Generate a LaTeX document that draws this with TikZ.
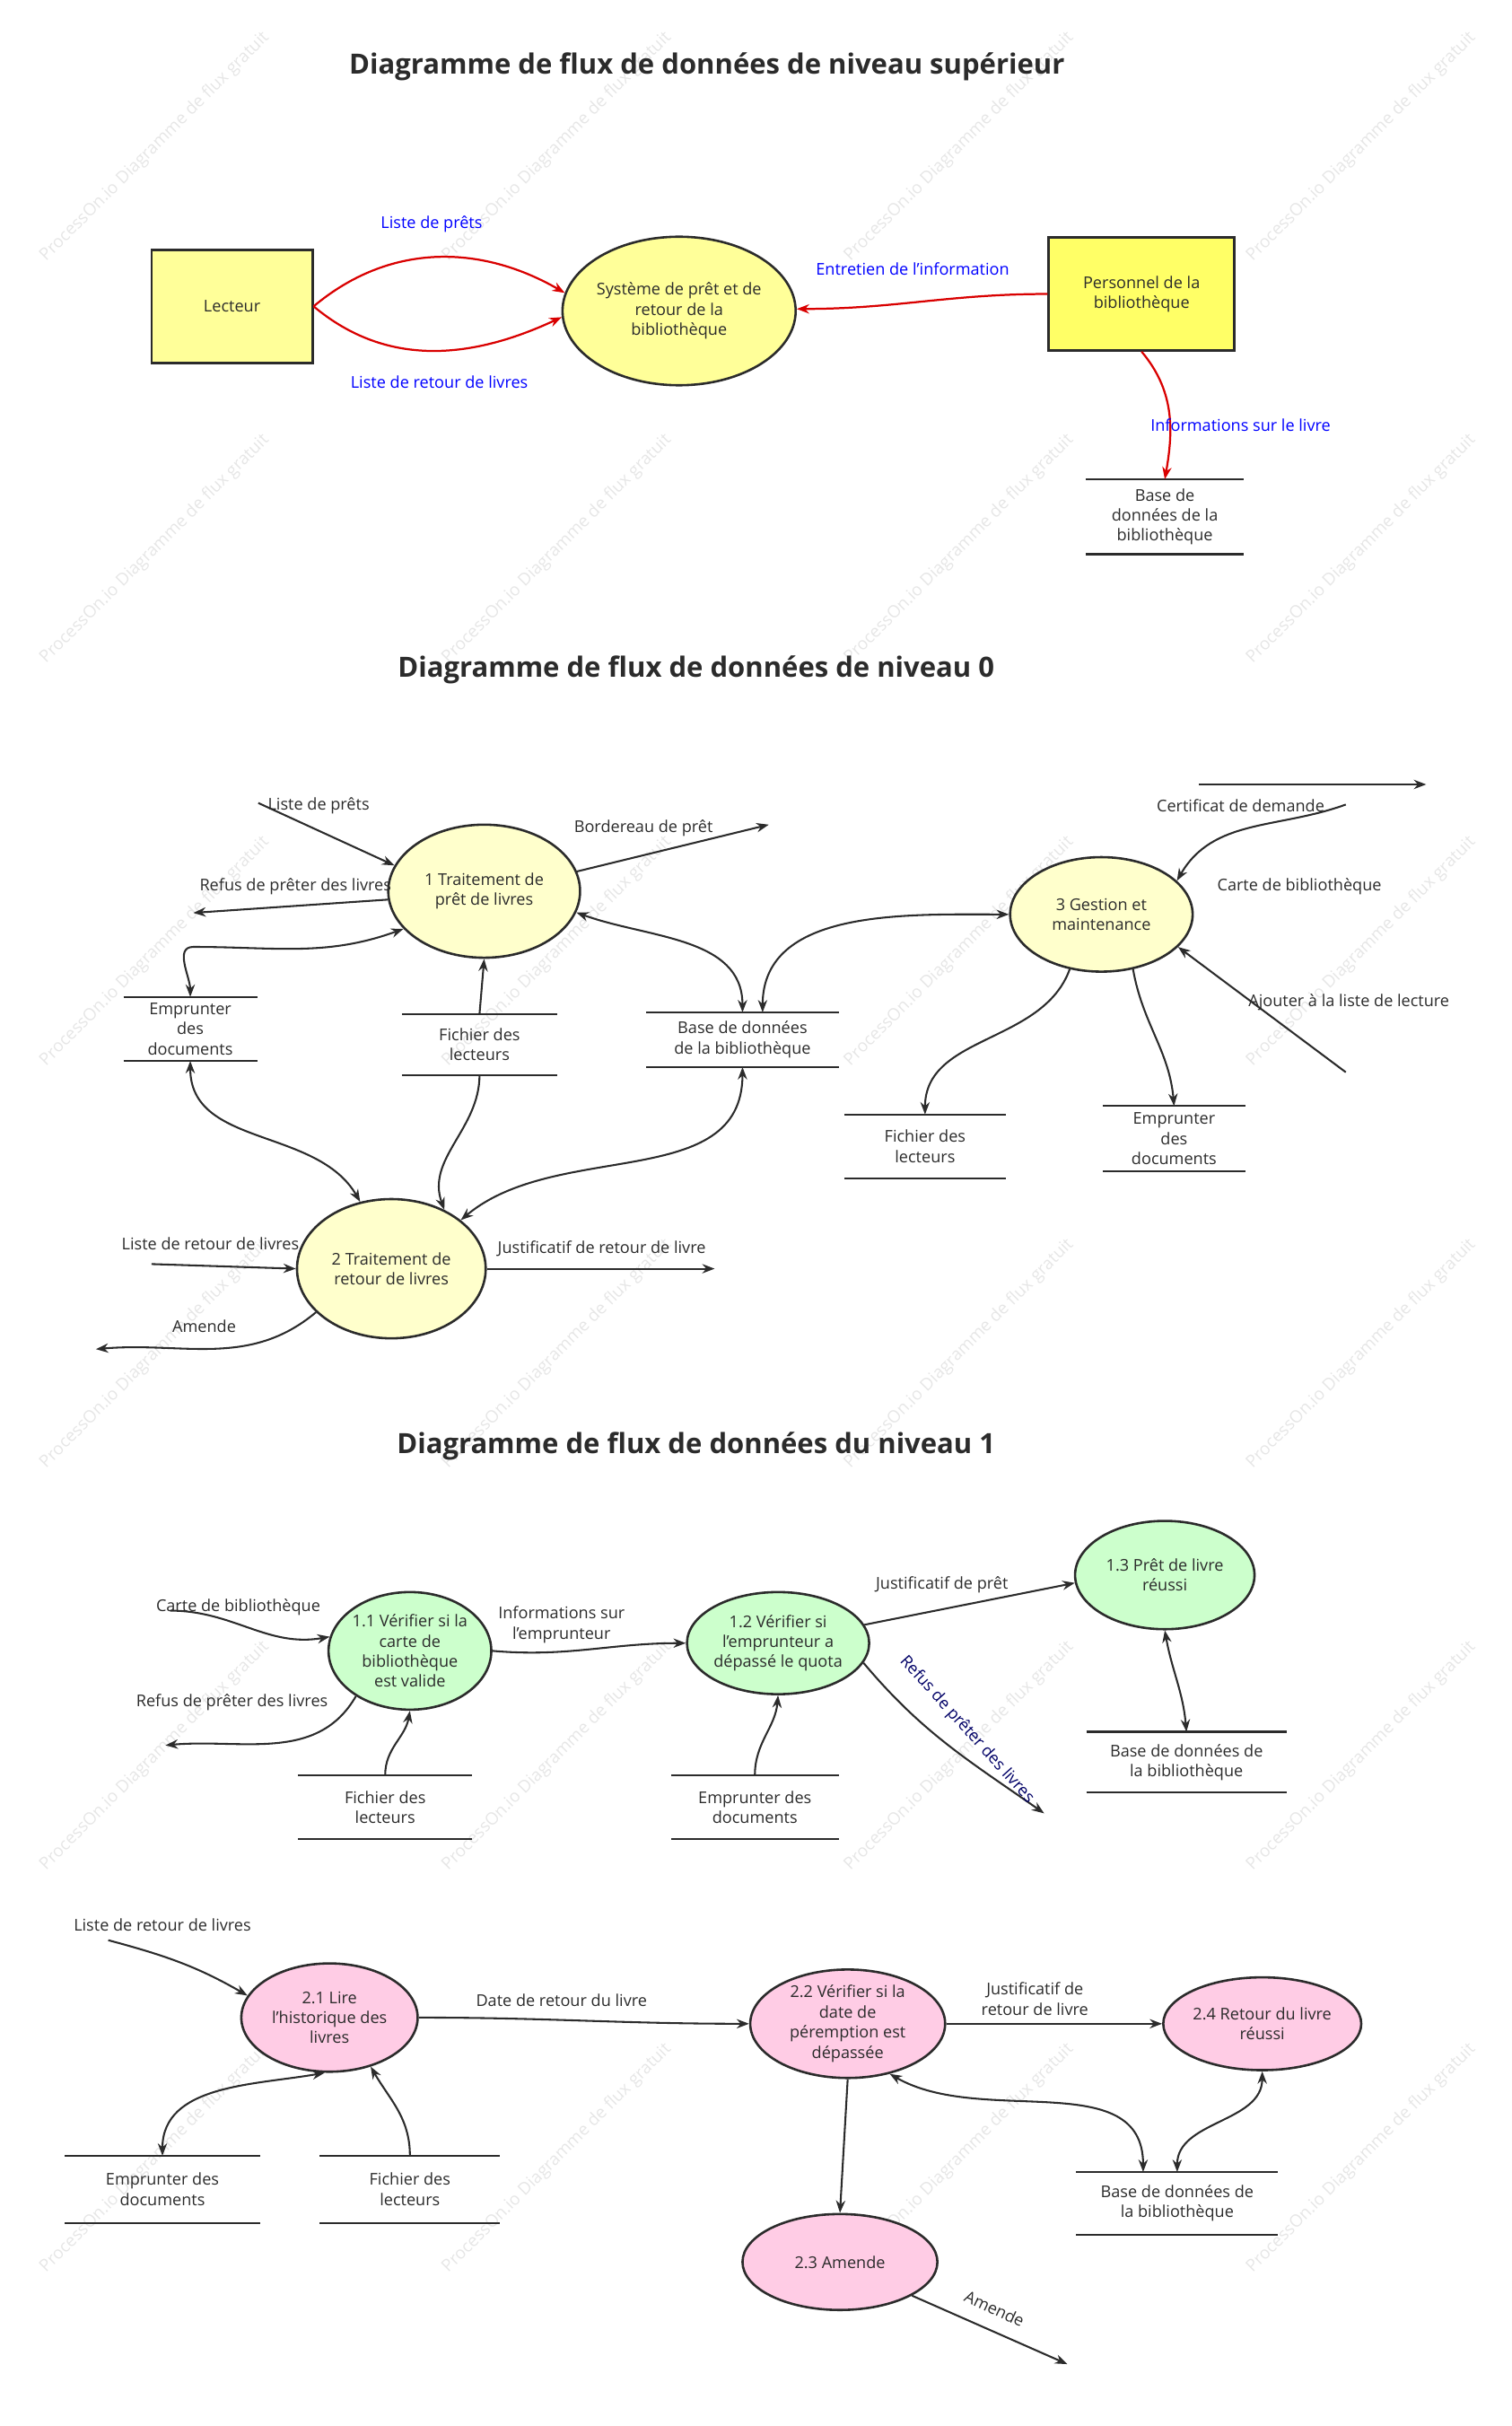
\documentclass[tikz,border=0pt]{standalone}
\usepackage{fontspec}
\setmainfont{Open Sans}
\usetikzlibrary{arrows.meta,shapes.geometric}
\definecolor{ink}{HTML}{2B2B2B}
\definecolor{yel}{HTML}{FFFF99}
\definecolor{yel2}{HTML}{FFFF66}
\definecolor{pyel}{HTML}{FFFFCC}
\definecolor{grn}{HTML}{CCFFCC}
\definecolor{pnk}{HTML}{FFCCE5}
\definecolor{wm}{HTML}{E6E6E6}
\tikzset{
 txt/.style={font=\fontsize{10.5}{13}\selectfont, text=ink, align=center, inner sep=1pt},
 ttl/.style={font=\fontsize{18}{22}\selectfont\bfseries, text=ink},
 proc/.style={ellipse, draw=ink, line width=1.5pt, txt},
 ent/.style={rectangle, draw=ink, line width=1.5pt, txt},
 arr/.style={-{Stealth[length=8pt,width=6pt]}, line width=1.2pt, draw=ink},
 barr/.style={{Stealth[length=8pt,width=6pt]}-{Stealth[length=8pt,width=6pt]}, line width=1.2pt, draw=ink},
 rarr/.style={-{Stealth[length=8pt,width=6pt]}, line width=1.3pt, draw=red!85!black, color=red!85!black},
 blbl/.style={txt, text=blue},
}
\newcommand{\dstore}[6]{% name, cx, cy, width, height, text
 \node[txt, minimum width=#4pt, minimum height=#5pt, inner sep=0pt] (#1) at (#2,#3) {#6};
 \draw[line width=1.2pt, ink] (#1.north west) -- (#1.north east) (#1.south west) -- (#1.south east);}
\begin{document}
\begin{tikzpicture}[x=1pt,y=-1pt]
\useasboundingbox (0,0) rectangle (977,1568);
% watermarks
\foreach \i in {0,...,3}{\foreach \j in {0,...,5}{
 \node[rotate=45, font=\fontsize{11}{13}\selectfont, text=wm] (wm\i\j) at (100+260*\i,95+260*\j) {ProcessOn.io Diagramme de flux gratuit};}}
% ---------- section 1
\node[ttl] (t1) at (457,43) {Diagramme de flux de données de niveau supérieur};
\node[ent, fill=yel, minimum width=104pt, minimum height=73pt] (lect) at (150,198) {Lecteur};
\node[proc, fill=yel, minimum width=146pt, minimum height=96pt, inner sep=0pt] (sys) at (439,201) {Système de prêt et de\\retour de la\\bibliothèque};
\node[ent, fill=yel2, minimum width=120pt, minimum height=73pt] (pers) at (738,190) {Personnel de la\\bibliothèque};
\dstore{bdd}{753}{334}{102}{48}{Base de\\données de la\\bibliothèque}
\draw[rarr] (lect.east) to[out=40,in=150] (sys.171);
\draw[rarr] (lect.east) to[out=-40,in=205] (sys.183);
\draw[rarr] (pers.west) to[out=180,in=0] (sys.1);
\draw[rarr] (pers.south) to[out=-50,in=80] (bdd.north);
\node[blbl] (l1) at (279,145) {Liste de prêts};
\node[blbl] (l2) at (284,247) {Liste de retour de livres};
\node[blbl] (l3) at (590,174) {Entretien de l'information};
\node[blbl] (l4) at (802,275) {Informations sur le livre};
% ---------- section 2
\node[ttl] (t2) at (450,433) {Diagramme de flux de données de niveau 0};
\node[proc, fill=pyel, minimum width=124pt, minimum height=86pt, inner sep=0pt] (p1) at (313,576) {1 Traitement de\\prêt de livres};
\node[proc, fill=pyel, minimum width=122pt, minimum height=90pt, inner sep=0pt] (p2) at (253,820) {2 Traitement de\\retour de livres};
\node[proc, fill=pyel, minimum width=118pt, minimum height=74pt, inner sep=0pt] (p3) at (712,591) {3 Gestion et\\maintenance};
\dstore{s1}{123}{665}{86}{41}{Emprunter\\des\\documents}
\dstore{s2}{310}{675}{100}{39}{Fichier des\\lecteurs}
\dstore{s3}{480}{672}{124}{35}{Base de données\\de la bibliothèque}
\dstore{s4}{598}{741}{104}{41}{Fichier des\\lecteurs}
\dstore{s5}{759}{736}{92}{42}{Emprunter\\des\\documents}
\coordinate (a1) at (167,519); \coordinate (a2) at (497,533); \coordinate (a3) at (125,590);
\coordinate (a4) at (98,817); \coordinate (a5) at (62,872); \coordinate (a6) at (462,820);
\coordinate (a7) at (775,507); \coordinate (a8) at (922,507); \coordinate (a9) at (870,520); \coordinate (a10) at (870,693);
\draw[arr] (a1) -- (p1.164);
\draw[arr] (p1.12) -- (a2);
\draw[arr] (p1.185) -- (a3);
\draw[barr] (s1.north) to[out=90,in=180] (125,612) to[out=0,in=200] (p1.205);
\draw[arr] (s2.north) -- (p1.south);
\draw[barr] (p1.347) to[out=-20,in=90] (s3.north);
\draw[barr] ([xshift=13pt]s3.north) to[out=90,in=180] (p3.180);
\draw[barr] (s1.south) to[out=-90,in=120] (p2.115);
\draw[arr] (s2.south) to[out=-90,in=110] (p2.48);
\draw[barr] (s3.south) to[out=-90,in=40] (p2.35);
\draw[arr] (a4) -- (p2.180);
\draw[arr] (p2.210) to[out=-140,in=5] (a5);
\draw[arr] (p2.0) -- (a6);
\draw[arr] (a7) -- (a8);
\draw[arr] (a9) to[out=200,in=60] (p3.24);
\draw[arr] (a10) -- (p3.337);
\draw[arr] (p3.240) to[out=-110,in=90] (s4.north);
\draw[arr] (p3.300) to[out=-80,in=95] (s5.north);
\node[txt] (b1) at (206,521) {Liste de prêts};
\node[txt] (b2) at (416,535) {Bordereau de prêt};
\node[txt] (b3) at (191,573) {Refus de prêter des livres};
\node[txt] (b4) at (136,804) {Liste de retour de livres};
\node[txt] (b5) at (132,857) {Amende};
\node[txt] (b6) at (389,807) {Justificatif de retour de livre};
\node[txt] (b7) at (802,521) {Certificat de demande};
\node[txt] (b8) at (840,573) {Carte de bibliothèque};
\node[txt] (b9) at (872,648) {Ajouter à la liste de lecture};
% ---------- section 3
\node[ttl] (t3) at (450,935) {Diagramme de flux de données du niveau 1};
\node[proc, fill=grn, minimum width=104pt, minimum height=76pt, inner sep=0pt] (q11) at (265,1067) {1.1 Vérifier si la\\carte de\\bibliothèque\\est valide};
\node[proc, fill=grn, minimum width=116pt, minimum height=66pt, inner sep=0pt] (q12) at (503,1062) {1.2 Vérifier si\\l'emprunteur a\\dépassé le quota};
\node[proc, fill=grn, minimum width=116pt, minimum height=70pt, inner sep=0pt] (q13) at (753,1018) {1.3 Prêt de livre\\réussi};
\dstore{u1}{249}{1168}{112}{41}{Fichier des\\lecteurs}
\dstore{u2}{488}{1168}{108}{41}{Emprunter des\\documents}
\dstore{u3}{767}{1139}{129}{39}{Base de données de\\la bibliothèque}
\coordinate (c1) at (110,1041); \coordinate (c2) at (107,1128); \coordinate (c3) at (675,1172);
\draw[arr] (c1) to[out=0,in=190] (q11.170);
\draw[arr] (q11.220) to[out=-120,in=5] (c2);
\draw[arr] (u1.north) to[out=90,in=-100] (q11.south);
\draw[arr] (q11.east) to[out=-5,in=180] (q12.west);
\draw[arr] (u2.north) to[out=90,in=-95] (q12.south);
\draw[arr] (q12.12) -- (q13.185);
\draw[arr] (q12.347) to[out=-50,in=145] (c3);
\draw[barr] (q13.south) to[out=-80,in=95] (u3.north);
\node[txt] (d1) at (154,1039) {Carte de bibliothèque};
\node[txt] (d2) at (150,1100) {Refus de prêter des livres};
\node[txt] (d3) at (363,1050) {Informations sur\\l'emprunteur};
\node[txt] (d4) at (609,1024) {Justificatif de prêt};
\node[txt, rotate=-48, text=blue!40!black] (d5) at (625,1118) {Refus de prêter des livres};
\node[proc, fill=pnk, minimum width=114pt, minimum height=70pt, inner sep=0pt] (r21) at (213,1304) {2.1 Lire\\l'historique des\\livres};
\node[proc, fill=pnk, minimum width=126pt, minimum height=70pt, inner sep=0pt] (r22) at (548,1308) {2.2 Vérifier si la\\date de\\péremption est\\dépassée};
\node[proc, fill=pnk, minimum width=128pt, minimum height=60pt, inner sep=0pt] (r24) at (816,1308) {2.4 Retour du livre\\réussi};
\node[proc, fill=pnk, minimum width=126pt, minimum height=62pt, inner sep=0pt] (r23) at (543,1462) {2.3 Amende};
\dstore{v1}{105}{1415}{126}{43}{Emprunter des\\documents}
\dstore{v2}{265}{1415}{116}{43}{Fichier des\\lecteurs}
\dstore{v3}{761}{1424}{130}{40}{Base de données de\\la bibliothèque}
\coordinate (e1) at (70,1254); \coordinate (e2) at (690,1528);
\draw[arr] (e1) to[out=-15,in=150] (r21.165);
\draw[arr] (r21.east) to[out=0,in=180] (r22.west);
\draw[arr] (r22.east) -- (r24.west);
\draw[barr] (v1.north) to[out=90,in=190] (r21.265);
\draw[arr] (v2.north) to[out=90,in=-60] (r21.310);
\draw[barr] (r22.310) to[out=-30,in=90] ([xshift=-22pt]v3.north);
\draw[barr] (r24.south) to[out=-90,in=90] ([xshift=0pt]v3.north);
\draw[arr] (r22.south) -- (r23.north);
\draw[arr] (r23.335) -- (e2);
\node[txt] (f1) at (105,1244) {Liste de retour de livres};
\node[txt] (f2) at (363,1293) {Date de retour du livre};
\node[txt] (f3) at (669,1292) {Justificatif de\\retour de livre};
\node[txt, rotate=-25] (f4) at (643,1492) {Amende};
\end{tikzpicture}
\end{document}
